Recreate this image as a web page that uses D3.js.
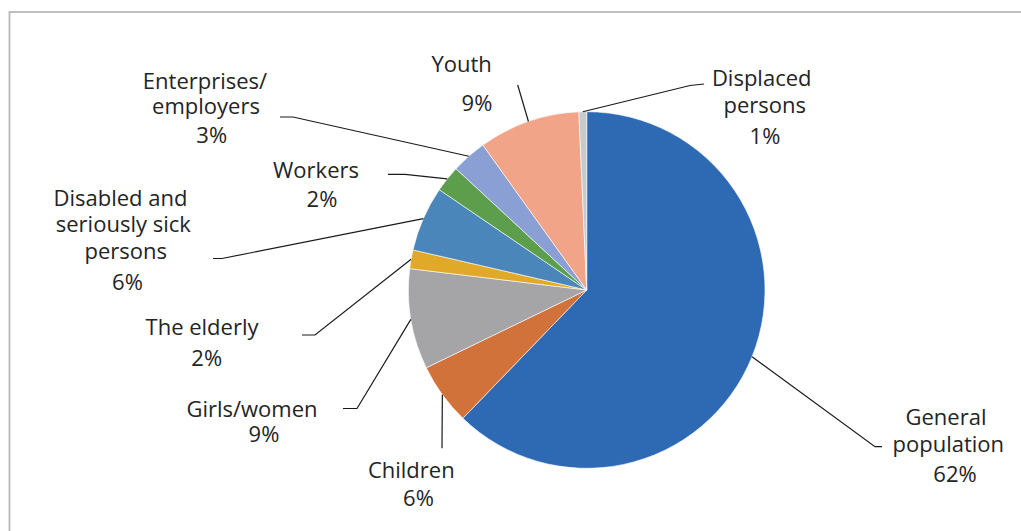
<!DOCTYPE html>
<html>
<head>
<meta charset="utf-8">
<script src="https://cdn.jsdelivr.net/npm/d3@7"></script>
<style>
  html, body { margin: 0; padding: 0; background: #fff; }
  svg { display: block; }
</style>
</head>
<body>
<svg id="chart" width="1021" height="531"></svg>
<script>
// Target groups, in clockwise order starting at 12 o'clock
const categories = [
  "General population", "Children", "Girls/women", "The elderly",
  "Disabled and seriously sick persons", "Workers", "Enterprises/ employers",
  "Youth", "Displaced persons"
];
// Share of measures (%)
const shares = [62.25, 5.6, 9.1, 1.7, 5.9, 2.4, 3.2, 9.2, 0.7];
// How each category name is broken over lines
const nameLines = [
  ["General", "population"],
  ["Children"],
  ["Girls/women"],
  ["The elderly"],
  ["Disabled and", "seriously sick", "persons"],
  ["Workers"],
  ["Enterprises/", "employers"],
  ["Youth"],
  ["Displaced", "persons"]
];

// Slice fills
const palette = ["#2e6ab4", "#d1723a", "#a5a5a7", "#e1a92a", "#4b86bb",
                 "#5c9e4b", "#8a9fd3", "#f1a488", "#c9c9c9"];

// Label placement: anchor of every text line, and leader bends after the slice edge
const labelLayout = [
  { text: [[946, 425], [948.3, 452.3], [955, 481.7]], bends: [[875, 446.7], [882, 446.7]] },
  { text: [[411.3, 478.3], [418.5, 505.7]], bends: [[442, 448.3]] },
  { text: [[252, 417.3], [264, 441.7]], bends: [[357, 408.5], [343, 408.5]] },
  { text: [[202, 335], [206.7, 365.7]], bends: [[315, 335], [302, 335]] },
  { text: [[120.5, 205.7], [123.3, 232.3], [125.7, 259], [127.5, 290]], bends: [[222, 258.5], [213, 258.5]] },
  { text: [[316, 177.7], [322, 206.7]], bends: [[405, 174.3], [388, 174.3]] },
  { text: [[205, 89.3], [206, 114], [211.7, 143.3]], bends: [[293, 117], [280, 117]] },
  { text: [[461.7, 72], [477, 110.5]], bends: [[517.7, 85]] },
  { text: [[761.7, 86], [764.7, 112.7], [765, 144]], bends: [[690, 85.5], [704, 84]] }
];

const W = 1021, H = 531;
const cx = 586.7, cy = 290, radius = 178.3;

const svg = d3.select("#chart");

// Chart area frame (runs past the right and bottom edges)
svg.append("rect")
  .attr("x", 9.5).attr("y", 12)
  .attr("width", W + 20).attr("height", H + 20)
  .attr("fill", "none")
  .attr("stroke", "#b8b8b8")
  .attr("stroke-width", 1.8);

const data = categories.map((c, i) => ({ name: c, value: shares[i], lines: nameLines[i], i }));
const total = d3.sum(shares);
const pct = d3.format(".0%");

const pie = d3.pie().value(d => d.value).sort(null).startAngle(0).endAngle(2 * Math.PI);
const arcs = pie(data);
const arc = d3.arc().innerRadius(0).outerRadius(radius);

const g = svg.append("g").attr("transform", `translate(${cx},${cy})`);

g.selectAll("path.slice")
  .data(arcs)
  .join("path")
  .attr("class", "slice")
  .attr("d", arc)
  .attr("fill", d => palette[d.data.i])
  .attr("stroke", "#ffffff")
  .attr("stroke-width", 0.6);

// Leader lines: from the slice's mid-angle on the rim to its label
const line = d3.line();
svg.append("g")
  .selectAll("path.leader")
  .data(arcs)
  .join("path")
  .attr("class", "leader")
  .attr("d", d => {
    const a = (d.startAngle + d.endAngle) / 2;
    const start = [cx + radius * Math.sin(a), cy - radius * Math.cos(a)];
    return line([start, ...labelLayout[d.data.i].bends]);
  })
  .attr("fill", "none")
  .attr("stroke", "#1a1a1a")
  .attr("stroke-width", 1.2);

// Category names with their percentage share
const labels = svg.append("g")
  .attr("font-family", "'Open Sans', 'Noto Sans', sans-serif")
  .attr("font-size", 22)
  .attr("fill", "#242424")
  .attr("text-anchor", "middle");

arcs.forEach(d => {
  const lay = labelLayout[d.data.i];
  const texts = [...d.data.lines, pct(d.data.value / total)];
  texts.forEach((t, k) => {
    labels.append("text")
      .attr("x", lay.text[k][0])
      .attr("y", lay.text[k][1])
      .text(t);
  });
});
</script>
</body>
</html>
